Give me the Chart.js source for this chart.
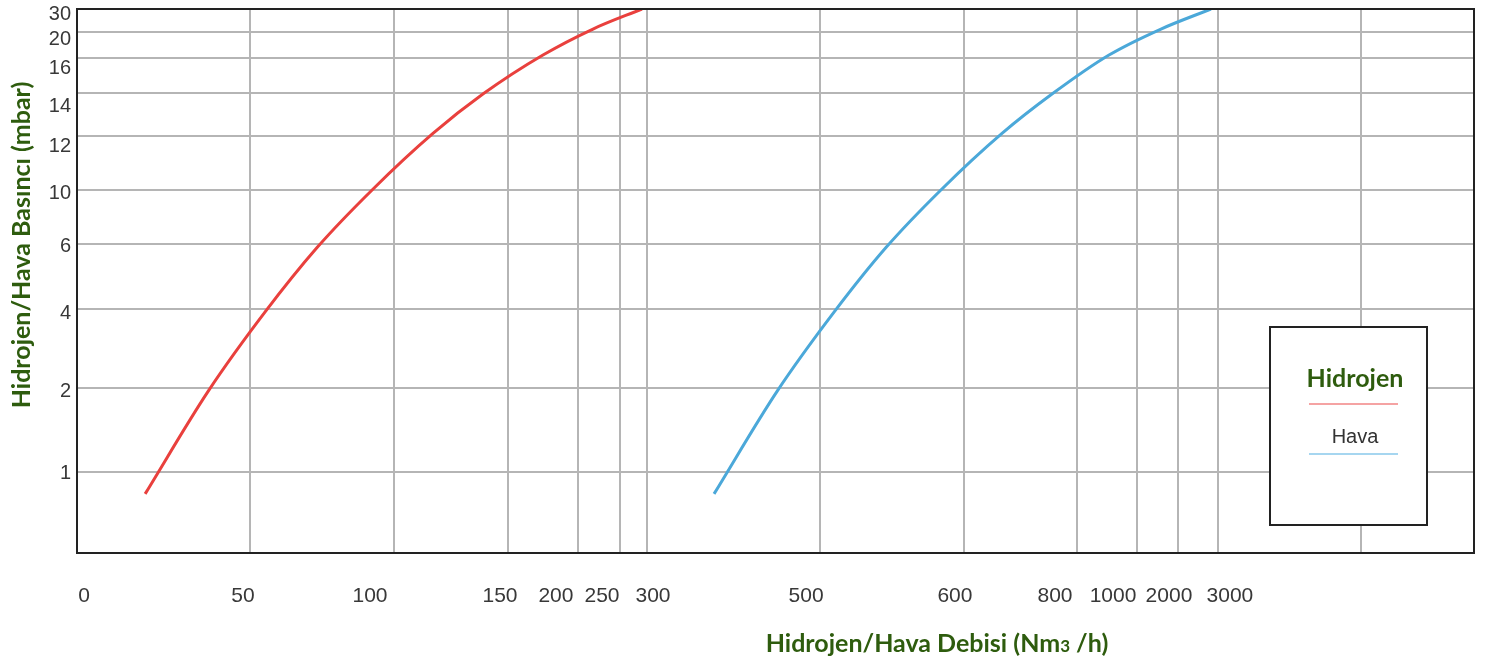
<!DOCTYPE html>
<html><head><meta charset="utf-8">
<script src="https://cdn.jsdelivr.net/npm/chart.js@4"></script>
<style>html,body{margin:0;padding:0;background:#fff;} #c{display:block;}</style>
</head><body>
<canvas id="c" width="1500" height="664"></canvas>
<script>
// ---- data ----
const xTickValues = [0, 50, 100, 150, 200, 250, 300, 500, 600, 800, 1000, 2000, 3000, 4000];
const xTickLabels = ['0', '50', '100', '150', '200', '250', '300', '500', '600', '800', '1000', '2000', '3000', ''];
const yTickValues = [1, 2, 4, 6, 10, 12, 14, 16, 20, 30];
const yTickLabels = ['1', '2', '4', '6', '10', '12', '14', '16', '20', '30'];
const seriesNames = ['Hidrojen', 'Hava'];
const hydrogenFlow = [19.7, 37.9, 55.2, 73.3, 92.4, 117.1, 139.0, 175, 217.9, 290.7];
const hydrogenPressure = [0.73, 1.96, 3.92, 5.89, 10, 12.12, 13.95, 16.46, 21.3, 30];
const airFlow = [377.5, 450.3, 509.7, 545.8, 584.0, 667.3, 755.8, 906.7, 1585, 2825];
const airPressure = [0.73, 1.96, 3.92, 5.89, 10, 12.12, 13.95, 16.46, 21.3, 30];
const xTitle = ['Hidrojen/Hava Debisi (Nm', '3', ' /h)'];
const yTitle = 'Hidrojen/Hava Basıncı (mbar)';

// ---- layout: axis spacing of the printed (non-uniform) chart ----
const axisMaps = {
  x: { breaks: [0, 50, 100, 150, 200, 250, 300, 500, 600, 800, 1000, 2000, 3000, 4000, 5000],
       fracs: [0, 0.1238, 0.2269, 0.3085, 0.3586, 0.3887, 0.4080, 0.5319, 0.6349, 0.7158, 0.7588, 0.7881, 0.8167, 0.9191, 1] },
  y: { breaks: [0, 1, 2, 4, 6, 10, 12, 14, 16, 20, 30],
       fracs: [0, 0.1489, 0.3033, 0.4485, 0.5680, 0.6673, 0.7665, 0.8456, 0.9099, 0.9577, 1] }
};
// label nudges (px) of the printed tick labels relative to their grid lines
const xLabelShift = [7, -7, -24, -8, -22, -18, 6, -14, -9, -22, -24, -9, 12, 0];
const yLabelShift = [1, 3, 4, 2, 3, 10, 13, 10, 7, 5];

class PiecewiseScale extends Chart.LinearScale {
  static id = 'piecewise';
  buildTicks() {
    const vals = this.id === 'x' ? xTickValues : yTickValues;
    return vals.map(v => ({ value: v }));
  }
  _frac(v) {
    const m = axisMaps[this.id], b = m.breaks, f = m.fracs;
    if (v <= b[0]) return f[0];
    for (let i = 1; i < b.length; i++) {
      if (v <= b[i]) return f[i - 1] + (v - b[i - 1]) / (b[i] - b[i - 1]) * (f[i] - f[i - 1]);
    }
    return f[f.length - 1];
  }
  _inv(fr) {
    const m = axisMaps[this.id], b = m.breaks, f = m.fracs;
    if (fr <= f[0]) return b[0];
    for (let i = 1; i < f.length; i++) {
      if (fr <= f[i]) return b[i - 1] + (fr - f[i - 1]) / (f[i] - f[i - 1]) * (b[i] - b[i - 1]);
    }
    return b[b.length - 1];
  }
  getPixelForValue(v) {
    const fr = this._frac(v);
    return this.isHorizontal() ? this.left + fr * this.width : this.bottom - fr * this.height;
  }
  getValueForPixel(p) {
    const fr = this.isHorizontal() ? (p - this.left) / this.width : (this.bottom - p) / this.height;
    return this._inv(fr);
  }
}
Chart.register(PiecewiseScale);

const GREEN = '#2e5c0e';
const TITLE_FONT = 'bold 25px Lato';
const TICK_COLOR = '#383838';

const decor = {
  id: 'decor',
  afterDraw(chart) {
    const ctx = chart.ctx, ca = chart.chartArea;
    const xs = chart.scales.x, ys = chart.scales.y;
    ctx.save();
    // frame
    ctx.strokeStyle = '#222';
    ctx.lineWidth = 2;
    ctx.strokeRect(ca.left, ca.top, ca.right - ca.left, ca.bottom - ca.top);

    // tick labels
    ctx.fillStyle = TICK_COLOR;
    ctx.textBaseline = 'middle';
    ctx.font = '21px "Liberation Sans"';
    ctx.textAlign = 'center';
    xs.ticks.forEach((t, i) => {
      ctx.fillText(xTickLabels[i], xs.getPixelForTick(i) + xLabelShift[i], ca.bottom + 43);
    });
    ctx.font = '20px "Liberation Sans"';
    ctx.textAlign = 'right';
    ys.ticks.forEach((t, i) => {
      ctx.fillText(yTickLabels[i], ca.left - 6, ys.getPixelForTick(i) + yLabelShift[i]);
    });

    // legend box
    const bx = ca.right - 204, by = ca.top + 318, bw = 157, bh = 198;
    ctx.fillStyle = '#fff';
    ctx.fillRect(bx, by, bw, bh);
    ctx.strokeStyle = '#222';
    ctx.lineWidth = 2;
    ctx.strokeRect(bx, by, bw, bh);
    const cx = bx + 85;
    ctx.textAlign = 'center';
    ctx.textBaseline = 'middle';
    ctx.fillStyle = GREEN;
    ctx.font = 'bold 25px Lato';
    ctx.fillText(seriesNames[0], cx, by + 52);
    ctx.strokeStyle = '#f5a3a3';
    ctx.lineWidth = 2;
    ctx.beginPath(); ctx.moveTo(bx + 39, by + 77); ctx.lineTo(bx + 128, by + 77); ctx.stroke();
    ctx.fillStyle = '#333';
    ctx.font = '20px "Liberation Sans"';
    ctx.fillText(seriesNames[1], cx, by + 110);
    ctx.strokeStyle = '#a6d6f0';
    ctx.beginPath(); ctx.moveTo(bx + 39, by + 127); ctx.lineTo(bx + 128, by + 127); ctx.stroke();

    // y title
    ctx.save();
    ctx.translate(22, 245);
    ctx.rotate(-Math.PI / 2);
    ctx.fillStyle = GREEN;
    ctx.font = TITLE_FONT;
    ctx.textAlign = 'center';
    ctx.textBaseline = 'middle';
    ctx.fillText(yTitle, 0, 0);
    ctx.restore();

    // x title with small "3"
    ctx.fillStyle = GREEN;
    ctx.textBaseline = 'alphabetic';
    ctx.textAlign = 'left';
    ctx.font = TITLE_FONT;
    const w0 = ctx.measureText(xTitle[0]).width, w2 = ctx.measureText(xTitle[2]).width;
    ctx.font = 'bold 17px Lato';
    const w1 = ctx.measureText(xTitle[1]).width;
    let x = 937 - (w0 + w1 + w2) / 2;
    const yb = 652;
    ctx.font = TITLE_FONT; ctx.fillText(xTitle[0], x, yb); x += w0;
    ctx.font = 'bold 17px Lato'; ctx.fillText(xTitle[1], x, yb); x += w1;
    ctx.font = TITLE_FONT; ctx.fillText(xTitle[2], x, yb);
    ctx.restore();
  }
};

const toPoints = (xsArr, ysArr) => xsArr.map((v, i) => ({ x: v, y: ysArr[i] }));
const noPad = s => { s.paddingTop = 0; s.paddingBottom = 0; s.paddingLeft = 0; s.paddingRight = 0; };

new Chart(document.getElementById('c'), {
  type: 'line',
  data: {
    datasets: [
      { label: seriesNames[0], data: toPoints(hydrogenFlow, hydrogenPressure), borderColor: '#e9403d', borderWidth: 3, pointRadius: 0, cubicInterpolationMode: 'monotone', fill: false },
      { label: seriesNames[1], data: toPoints(airFlow, airPressure), borderColor: '#4ba8d9', borderWidth: 3, pointRadius: 0, cubicInterpolationMode: 'monotone', fill: false }
    ]
  },
  options: {
    responsive: false,
    animation: false,
    layout: { padding: { left: 0, top: 9, right: 26, bottom: 0 } },
    plugins: { legend: { display: false }, tooltip: { enabled: false }, title: { display: false } },
    scales: {
      x: {
        type: 'piecewise', min: 0, max: 5000,
        afterFit: s => { s.height = 111; noPad(s); },
        border: { display: false },
        grid: { color: '#b5b5b5', lineWidth: 2, drawTicks: false },
        ticks: { display: false, autoSkip: false, callback: (v, i) => xTickLabels[i] }
      },
      y: {
        type: 'piecewise', min: 0, max: 30,
        afterFit: s => { s.width = 77; noPad(s); },
        border: { display: false },
        grid: { color: '#b5b5b5', lineWidth: 2, drawTicks: false },
        ticks: { display: false, autoSkip: false, callback: (v, i) => yTickLabels[i] }
      }
    }
  },
  plugins: [decor]
});
</script>
</body></html>
